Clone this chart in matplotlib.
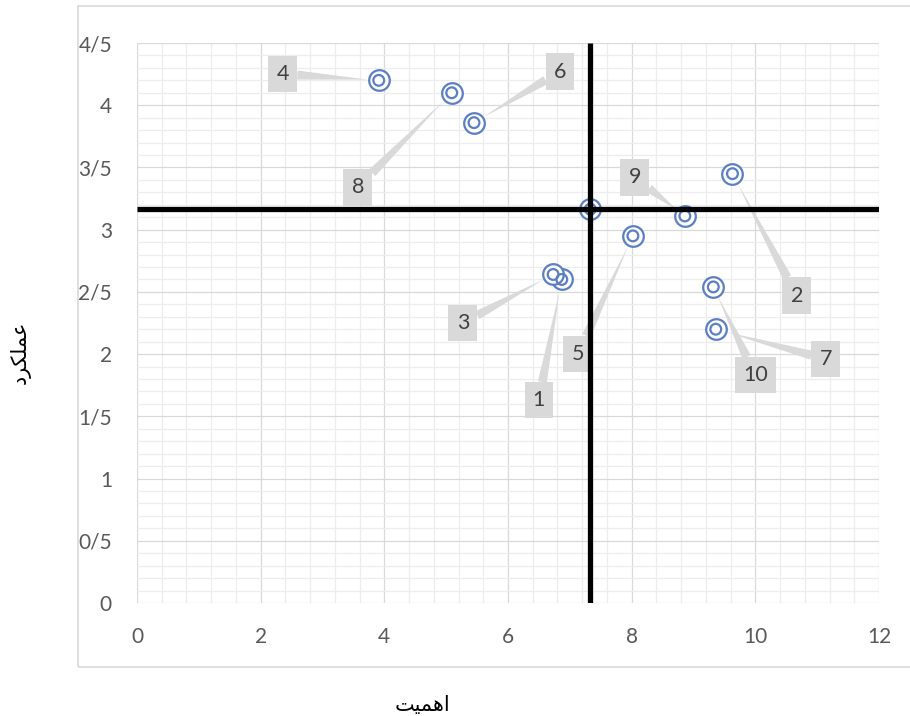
import matplotlib
matplotlib.use("Agg")
import matplotlib.pyplot as plt
from matplotlib.ticker import MultipleLocator, FuncFormatter
from matplotlib.patches import Rectangle

# ---- data ----
labels = ["1", "2", "3", "4", "5", "6", "7", "8", "9", "10"]
importance = [6.87, 9.63, 6.73, 3.91, 8.02, 5.45, 9.36, 5.09, 8.86, 9.32]
performance = [2.60, 3.45, 2.64, 4.20, 2.95, 3.86, 2.20, 4.10, 3.11, 2.54]
mean_x = 7.33
mean_y = 3.165
x_title = "\uFE96\uFEF4\uFEE4\uFEEB\uFE8D"        # اهمیت (shaped, visual order)
y_title = "\uFEA9\uFEAE\uFEDC\uFEE0\uFEE4\uFECB"  # عملکرد (shaped, visual order)

# label box positions (layout)
label_pos = {
    "1": (6.50, 1.63), "2": (10.67, 2.47), "3": (5.27, 2.25), "4": (2.36, 4.25),
    "5": (7.13, 2.00), "6": (6.84, 4.27), "7": (11.14, 1.96), "8": (3.57, 3.34),
    "9": (8.05, 3.42), "10": (10.00, 1.83),
}

W, H = 910, 716
fig = plt.figure(figsize=(W / 100, H / 100), dpi=100)
fig.patch.set_facecolor("white")

# outer chart frame
fig.patches.append(Rectangle((78 / W, 1 - 667 / H), 1.0, (667 - 6) / H,
                             transform=fig.transFigure, fill=False,
                             ec="#d9d9d9", lw=1.2, zorder=0))

ax = fig.add_axes([137 / W, 1 - 603 / H, (879 - 137) / W, (603 - 43) / H])
ax.set_xlim(0, 12)
ax.set_ylim(0, 4.5)
ax.xaxis.set_major_locator(MultipleLocator(2))
ax.xaxis.set_minor_locator(MultipleLocator(0.4))
ax.yaxis.set_major_locator(MultipleLocator(0.5))
ax.yaxis.set_minor_locator(MultipleLocator(0.1))
ax.grid(which="minor", color="#ededed", lw=0.9, zorder=0)
ax.grid(which="major", color="#d9d9d9", lw=0.9, zorder=0)
ax.set_axisbelow(True)
for s in ax.spines.values():
    s.set_visible(False)

def yfmt(v, pos):
    s = ("%g" % v)
    return s.replace(".", "/")

ax.yaxis.set_major_formatter(FuncFormatter(yfmt))
ax.xaxis.set_major_formatter(FuncFormatter(lambda v, p: "%g" % v))
ax.tick_params(which="both", length=0)
ax.tick_params(axis="x", pad=17, labelsize=15, labelcolor="#595959")
ax.tick_params(axis="y", pad=18, labelsize=15, labelcolor="#595959")
for t in ax.get_xticklabels() + ax.get_yticklabels():
    t.set_fontfamily("Lato")

# annotations with wedge leaders
for lab, x, y in zip(labels, importance, performance):
    lx, ly = label_pos[lab]
    ax.annotate(lab, xy=(x, y), xytext=(lx, ly), textcoords="data",
                ha="center", va="center", fontsize=15.5, family="Lato",
                color="#404040", zorder=2,
                bbox=dict(boxstyle="square,pad=0.38", fc="#d9d9d9", ec="none"),
                arrowprops=dict(arrowstyle="wedge,tail_width=0.42,shrink_factor=0.5",
                                fc="#d9d9d9", ec="none", shrinkA=0, shrinkB=8))

blue = "#5b7ec4"
all_x = importance + [mean_x]
all_y = performance + [mean_y]
ax.scatter(all_x, all_y, s=220, facecolor="white", edgecolor=blue, lw=1.6, zorder=3)
ax.scatter(all_x, all_y, s=60, facecolor="none", edgecolor=blue, lw=1.6, zorder=3)

# mean cross lines
ax.plot([mean_x, mean_x], [0, 4.5], color="black", lw=3.8, zorder=4, solid_capstyle="butt")
ax.plot([0, 12], [mean_y, mean_y], color="black", lw=3.8, zorder=4, solid_capstyle="butt")

fig.text(423 / W, 1 - 705 / H, x_title, ha="center", va="center",
         fontsize=15, family="DejaVu Sans", color="black")
fig.text(20 / W, 1 - 352 / H, y_title, ha="center", va="center", rotation=90,
         fontsize=15, family="DejaVu Sans", color="black")

fig.savefig("out.png", dpi=100)
